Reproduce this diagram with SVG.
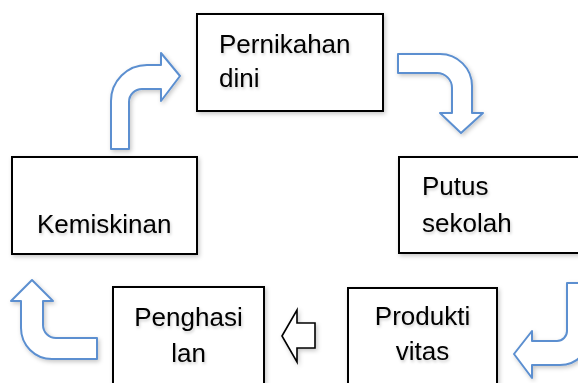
<svg xmlns="http://www.w3.org/2000/svg" width="578" height="383" viewBox="0 0 578 383">
<defs>
<filter id="sh" x="-20%" y="-20%" width="140%" height="140%">
<feDropShadow dx="1.5" dy="2" stdDeviation="2" flood-color="#000" flood-opacity="0.22"/>
</filter>
<filter id="ts" x="-10%" y="-20%" width="120%" height="150%">
<feDropShadow dx="1" dy="2" stdDeviation="1.5" flood-color="#000" flood-opacity="0.2"/>
</filter>
</defs>
<style>
.box{fill:#fff;stroke:#000;stroke-width:2;filter:url(#sh)}
.t{font-family:"Liberation Sans",Arial,sans-serif;font-size:26px;fill:#000;filter:url(#ts)}
.c{text-anchor:middle}
.ba{fill:#fff;stroke:#5b8fd0;stroke-width:2;stroke-linejoin:round;filter:url(#sh)}
.ka{fill:#fff;stroke:#000;stroke-width:1.6;stroke-linejoin:miter;filter:url(#sh)}
</style>
<rect width="578" height="383" fill="#fff"/>
<g id="connectors">
<path class="ba" d="M111,149 L111,101 A36,36 0 0 1 147,65 L161,65 L161,53 L180,76 L161,101 L161,89 L142,89 A13,13 0 0 0 129,102 L129,149 Z"/>
<path class="ba" d="M398,54 L440,54 A32,32 0 0 1 472,86 L472,113 L483,113 L461,133 L440,113 L452,113 L452,88 A15,15 0 0 0 437,73 L398,73 Z"/>
<path class="ba" d="M567,283 L590,283 L590,335 A30,30 0 0 1 560,365 L532,365 L532,378 L514,354 L532,331 L532,341 L557,341 A10,10 0 0 0 567,331 Z"/>
<path class="ka" d="M282,336 L297,310 L297,323 L315,323 L315,348 L297,348 L297,362 Z"/>
<path class="ba" d="M32,280 L53,301 L43,301 L43,325 A13,13 0 0 0 56,338 L97,338 L97,359 L52,359 A31,31 0 0 1 21,328 L21,301 L11,301 Z"/>
</g>
<g id="pernikahan">
<rect class="box" x="197" y="14" width="186" height="97"/>
<text class="t" x="219" y="53">Pernikahan</text>
<text class="t" x="219" y="87">dini</text>
</g>
<g id="putus">
<rect class="box" x="399" y="157" width="190" height="96"/>
<text class="t" x="422" y="195">Putus</text>
<text class="t" x="422" y="232">sekolah</text>
</g>
<g id="produktivitas">
<rect class="box" x="348" y="288" width="149" height="110"/>
<text class="t c" x="422.5" y="325">Produkti</text>
<text class="t c" x="422.5" y="360">vitas</text>
</g>
<g id="penghasilan">
<rect class="box" x="113" y="287" width="151" height="110"/>
<text class="t c" x="188.5" y="326">Penghasi</text>
<text class="t c" x="188.5" y="362">lan</text>
</g>
<g id="kemiskinan">
<rect class="box" x="12" y="157" width="185" height="97"/>
<text class="t" x="37" y="233">Kemiskinan</text>
</g>
</svg>
